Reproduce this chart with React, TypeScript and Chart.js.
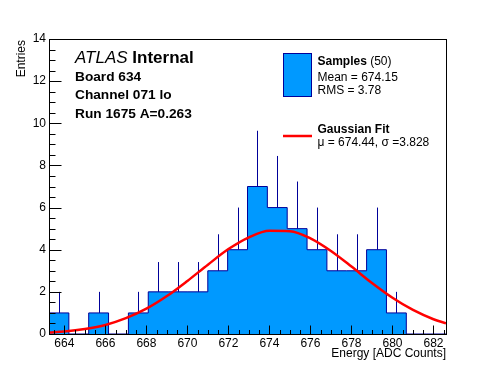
import React, { useEffect, useRef } from "react";
import { Chart, registerables } from "chart.js";

Chart.register(...registerables);

// ---- data ----
const binLow = 663.25;
const binWidth = 0.968;
const counts = [1, 0, 1, 0, 1, 2, 2, 2, 3, 4, 7, 6, 5, 4, 3, 3, 4, 1, 0, 0];

const fitX = [663.25, 664, 665, 666, 667, 668, 669, 670, 671, 672, 673, 674, 675, 676, 677, 678, 679, 680, 681, 682, 682.61];
const fitY = [0.07, 0.12, 0.24, 0.43, 0.75, 1.2, 1.8, 2.52, 3.29, 4.03, 4.59, 4.9, 4.88, 4.54, 3.94, 3.2, 2.42, 1.72, 1.14, 0.7, 0.51];

const xMin = 663.25;
const xMax = 682.61;
const yMin = 0;
const yMax = 14;
const xMajor = [664, 666, 668, 670, 672, 674, 676, 678, 680, 682];
const yMajor = [0, 2, 4, 6, 8, 10, 12, 14];

const FONT = '"Liberation Sans", Arial, Helvetica, sans-serif';
const FILL = "#0099ff";
const EDGE = "#000099";

const histData = [
  ...counts.map((c, i) => ({ x: binLow + i * binWidth, y: c })),
  { x: binLow + counts.length * binWidth, y: counts[counts.length - 1] },
];
const fitData = fitX.map((x, i) => ({ x, y: fitY[i] }));

const errorBars = {
  id: "errorBars",
  afterDatasetDraw(chart: any, args: any) {
    if (args.index !== 1) return;
    const { ctx, scales } = chart;
    ctx.save();
    ctx.strokeStyle = EDGE;
    ctx.lineWidth = 1;
    counts.forEach((c, i) => {
      if (c <= 0) return;
      const cx = Math.round(scales.x.getPixelForValue(binLow + (i + 0.5) * binWidth)) + 0.5;
      const y1 = scales.y.getPixelForValue(c);
      const y2 = scales.y.getPixelForValue(c + Math.sqrt(c));
      ctx.beginPath();
      ctx.moveTo(cx, y1);
      ctx.lineTo(cx, y2);
      ctx.stroke();
    });
    ctx.restore();
  },
};

const frame = {
  id: "frame",
  afterDraw(chart: any) {
    const { ctx, chartArea: a, scales } = chart;
    const L = a.left + 0.5, R = a.right + 0.5, T = a.top + 0.5, B = a.bottom + 0.5;
    ctx.save();
    ctx.strokeStyle = "#000";
    ctx.lineWidth = 1;
    ctx.strokeRect(L, T, R - L, B - T);
    ctx.beginPath();
    // x ticks
    for (let v = 663.5; v <= xMax + 1e-6; v += 0.5) {
      const px = Math.round(scales.x.getPixelForValue(v)) + 0.5;
      const major = Math.abs(v / 2 - Math.round(v / 2)) < 1e-6;
      ctx.moveTo(px, B);
      ctx.lineTo(px, B - (major ? 9 : 4.5));
    }
    // y ticks
    for (let v = yMin; v <= yMax + 1e-6; v += 0.5) {
      const py = Math.round(scales.y.getPixelForValue(v)) + 0.5;
      const major = Math.abs(v / 2 - Math.round(v / 2)) < 1e-6;
      ctx.moveTo(L, py);
      ctx.lineTo(L + (major ? 12 : 6), py);
    }
    ctx.stroke();

    ctx.fillStyle = "#000";
    ctx.font = `12px ${FONT}`;
    ctx.textAlign = "center";
    ctx.textBaseline = "alphabetic";
    xMajor.forEach((v) => ctx.fillText(String(v), scales.x.getPixelForValue(v), 347));
    ctx.textAlign = "right";
    ctx.textBaseline = "middle";
    yMajor.forEach((v) => ctx.fillText(String(v), 46, scales.y.getPixelForValue(v)));

    // axis titles
    ctx.textBaseline = "alphabetic";
    ctx.textAlign = "right";
    ctx.fillText("Energy [ADC Counts]", a.right, 357);
    ctx.save();
    ctx.translate(24.5, a.top + 1);
    ctx.rotate(-Math.PI / 2);
    ctx.textAlign = "right";
    ctx.fillText("Entries", 0, 0);
    ctx.restore();

    // ATLAS label
    ctx.textAlign = "left";
    ctx.font = `italic 17px ${FONT}`;
    ctx.fillText("ATLAS", 75, 63);
    const w = ctx.measureText("ATLAS ").width;
    ctx.font = `bold 17px ${FONT}`;
    ctx.fillText("Internal", 75 + w, 63);
    ctx.font = `bold 13.7px ${FONT}`;
    ctx.fillText("Board 634", 75, 80.7);
    ctx.fillText("Channel 071 lo", 75, 99.3);
    ctx.fillText("Run 1675 A=0.263", 75, 118.3);

    // legend
    ctx.fillStyle = FILL;
    ctx.fillRect(283.5, 53.5, 28, 43);
    ctx.strokeStyle = EDGE;
    ctx.strokeRect(283.5, 53.5, 28, 43);
    ctx.fillStyle = "#000";
    ctx.font = `bold 12px ${FONT}`;
    ctx.fillText("Samples", 317.5, 65);
    const ws = ctx.measureText("Samples ").width;
    ctx.font = `12px ${FONT}`;
    ctx.fillText("(50)", 317.5 + ws, 65);
    ctx.fillText("Mean = 674.15", 317.5, 80.5);
    ctx.fillText("RMS = 3.78", 317.5, 93.5);

    ctx.strokeStyle = "#ff0000";
    ctx.lineWidth = 2.5;
    ctx.beginPath();
    ctx.moveTo(283, 136);
    ctx.lineTo(312, 136);
    ctx.stroke();
    ctx.font = `bold 12px ${FONT}`;
    ctx.fillText("Gaussian Fit", 317.5, 133);
    ctx.font = `12px ${FONT}`;
    ctx.fillText("\u03bc = 674.44, \u03c3 =3.828", 317.5, 145.5);
    ctx.restore();
  },
};

export default function App() {
  const ref = useRef<HTMLCanvasElement>(null);
  useEffect(() => {
    if (!ref.current) return;
    const chart = new Chart(ref.current, {
      type: "line",
      data: {
        datasets: [
          {
            label: "Gaussian Fit",
            data: fitData,
            borderColor: "#ff0000",
            borderWidth: 2.5,
            pointRadius: 0,
            cubicInterpolationMode: "monotone",
            fill: false,
            order: 0,
          },
          {
            label: "Samples",
            data: histData,
            stepped: "before",
            borderColor: EDGE,
            borderWidth: 1,
            backgroundColor: FILL,
            pointRadius: 0,
            fill: "origin",
            order: 1,
          },
        ],
      } as any,
      options: {
        animation: false,
        responsive: false,
        maintainAspectRatio: false,
        layout: { padding: { left: 49, top: 39, right: 50, bottom: 38 } },
        scales: {
          x: { type: "linear", min: xMin, max: xMax, display: false },
          y: { type: "linear", min: yMin, max: yMax, display: false },
        },
        plugins: { legend: { display: false }, tooltip: { enabled: false } },
      } as any,
      plugins: [errorBars, frame],
    });
    return () => chart.destroy();
  }, []);
  return (
    <div style={{ position: "fixed", left: 0, top: 0, width: 496, height: 372, background: "#fff" }}>
      <canvas ref={ref} width={496} height={372} style={{ width: 496, height: 372, display: "block" }} />
    </div>
  );
}
